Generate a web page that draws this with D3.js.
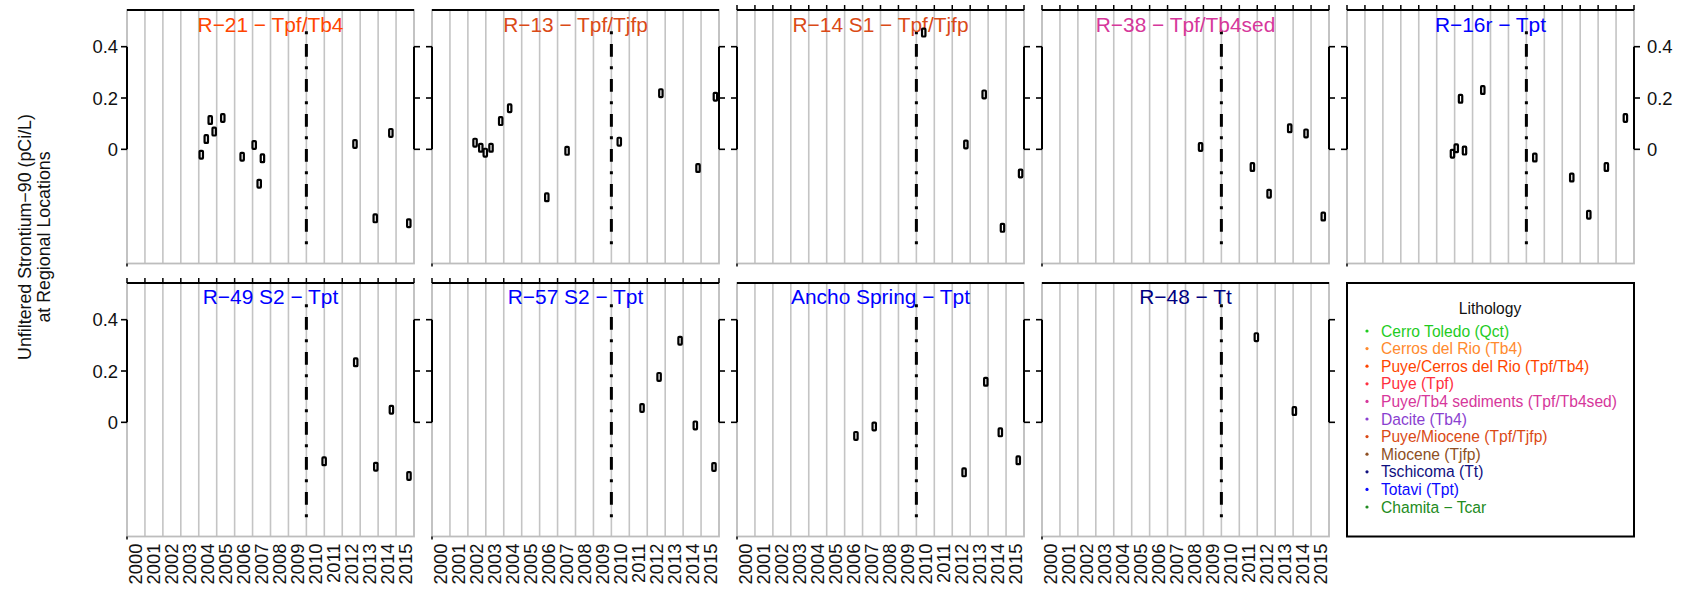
<!DOCTYPE html>
<html><head><meta charset="utf-8">
<script src="https://cdn.jsdelivr.net/npm/d3@7"></script>
<style>body{margin:0;background:#fff;} text{font-family:"Liberation Sans",Arial,Helvetica,sans-serif;}</style>
</head><body><svg id="c" width="1688" height="593"></svg>
<script>
// ---------- data ----------
const yearLabels = ["2000","2001","2002","2003","2004","2005","2006","2007","2008","2009","2010","2011","2012","2013","2014","2015"];
const yTicks = [0, 0.2, 0.4];
const yTickLabels = ["0", "0.2", "0.4"];
const cutoverYear = 2010;
const cutoverRange = [-0.37, 0.46];

const panelTitles = ["R\u221221 \u2212 Tpf/Tb4", "R\u221213 \u2212 Tpf/Tjfp", "R\u221214 S1 \u2212 Tpf/Tjfp", "R\u221238 \u2212 Tpf/Tb4sed", "R\u221216r \u2212 Tpt",
                     "R\u221249 S2 \u2212 Tpt", "R\u221257 S2 \u2212 Tpt", "Ancho Spring \u2212 Tpt", "R\u221248 \u2212 Tt"];
const panelColors = ["#FF4500", "#DA4A16", "#DA4A16", "#D6379B", "#0000FF", "#0000FF", "#0000FF", "#0000FF", "#000080"];

const r21Dates  = [2004.14, 2004.42, 2004.64, 2004.86, 2005.34, 2006.42, 2007.09, 2007.55, 2007.37, 2012.71, 2013.84, 2014.71, 2015.71];
const r21Values = [-0.021, 0.040, 0.114, 0.069, 0.122, -0.029, 0.017, -0.035, -0.134, 0.021, -0.269, 0.064, -0.288];
const r13Dates  = [2002.40, 2002.72, 2002.97, 2003.29, 2003.83, 2004.33, 2006.40, 2007.53, 2010.44, 2012.76, 2014.83, 2015.80];
const r13Values = [0.026, 0.006, -0.013, 0.006, 0.110, 0.160, -0.187, -0.006, 0.030, 0.219, -0.073, 0.205];
const r14Dates  = [2010.41, 2012.76, 2013.78, 2014.80, 2015.81];
const r14Values = [0.455, 0.019, 0.214, -0.306, -0.094];
const r38Dates  = [2008.84, 2011.73, 2012.66, 2013.81, 2014.72, 2015.68];
const r38Values = [0.009, -0.069, -0.173, 0.082, 0.062, -0.262];
const r16Dates  = [2005.88, 2006.09, 2006.33, 2006.55, 2007.57, 2010.47, 2012.53, 2013.48, 2014.46, 2015.52];
const r16Values = [-0.017, 0.004, 0.197, -0.005, 0.231, -0.032, -0.110, -0.255, -0.069, 0.122];
const r49Dates  = [2010.99, 2012.75, 2013.87, 2014.74, 2015.72];
const r49Values = [-0.152, 0.234, -0.173, 0.049, -0.209];
const r57Dates  = [2011.71, 2012.66, 2013.83, 2014.68, 2015.72];
const r57Values = [0.056, 0.177, 0.318, -0.012, -0.174];
const anchoDates  = [2006.63, 2007.65, 2012.66, 2013.87, 2014.68, 2015.68];
const anchoValues = [-0.053, -0.016, -0.195, 0.158, -0.039, -0.148];
const r48Dates  = [2011.95, 2014.07];
const r48Values = [0.332, 0.044];

const legendLabels = ["Cerro Toledo (Qct)", "Cerros del Rio (Tb4)", "Puye/Cerros del Rio (Tpf/Tb4)", "Puye (Tpf)",
  "Puye/Tb4 sediments (Tpf/Tb4sed)", "Dacite (Tb4)", "Puye/Miocene (Tpf/Tjfp)", "Miocene (Tjfp)",
  "Tschicoma (Tt)", "Totavi (Tpt)", "Chamita \u2212 Tcar"];
const legendColors = ["#1FCC1F", "#FF8A2E", "#FF4500", "#FF3040", "#D6379B", "#8A3FD0", "#DA4A16", "#8E5024", "#10107F", "#0A0AFF", "#228B22"];

const panelDates  = [r21Dates, r13Dates, r14Dates, r38Dates, r16Dates, r49Dates, r57Dates, anchoDates, r48Dates];
const panelValues = [r21Values, r13Values, r14Values, r38Values, r16Values, r49Values, r57Values, anchoValues, r48Values];

// ---------- layout ----------
const svg = d3.select("#c");
function fitSize(str, target, base) {
  const t = svg.append("text").attr("font-size", base).text(str);
  const len = t.node().getComputedTextLength();
  t.remove();
  return base * target / len;
}
const W = 287, H = 253.5;
const colX = [127, 432, 737, 1042, 1347];
const rowY = [10, 283];
const topTickPanels = [2, 3, 4, 5, 6];
const x = d3.scaleLinear().domain([2000, 2016]).range([0, W]);
const y = d3.scaleLinear().domain([-0.445, 0.543]).range([H, 0]);
const gridYears = d3.range(2001, 2016);
const boundaryYears = d3.range(2000, 2017);
const axisFont = Math.min(19.5, Math.max(16, fitSize("2000", 41, 18)));
const titleFont = Math.min(23, Math.max(18, fitSize("R\u221221 \u2212 Tpf/Tb4", 146, 21)));
const legendFont = Math.min(18, Math.max(14, fitSize("Puye/Tb4 sediments (Tpf/Tb4sed)", 236, 15)));
const yTitleFont = Math.min(19.5, Math.max(15, fitSize("Unfiltered Strontium\u221290 (pCi/L)", 246, 18)));
const inkColor = "#111";

panelTitles.forEach((title, i) => {
  const col = i % 5, row = Math.floor(i / 5);
  const g = svg.append("g").attr("transform", `translate(${colX[col]},${rowY[row]})`);
  g.selectAll("line.grid").data(gridYears).join("line")
    .attr("x1", d => x(d)).attr("x2", d => x(d)).attr("y1", 0).attr("y2", H)
    .attr("stroke", "#C4C4C4").attr("stroke-width", 1.6);
  g.append("rect").attr("x", 0).attr("y", 0).attr("width", W).attr("height", H)
    .attr("fill", "none").attr("stroke", "#BDBDBD").attr("stroke-width", 1.8);
  g.append("line").attr("x1", 0).attr("x2", W).attr("y1", 0).attr("y2", 0)
    .attr("stroke", "#000").attr("stroke-width", 2);
  if (topTickPanels.includes(i)) {
    g.selectAll("line.tt").data(boundaryYears).join("line")
      .attr("x1", d => x(d)).attr("x2", d => x(d)).attr("y1", 0).attr("y2", -5)
      .attr("stroke", "#000").attr("stroke-width", 1.5);
  }
  g.append("line").attr("x1", 0).attr("x2", 0).attr("y1", H).attr("y2", H + 3)
    .attr("stroke", "#000").attr("stroke-width", 1.5);
  [[0, -1], [W, 1]].forEach(([ax, dir]) => {
    g.append("line").attr("x1", ax).attr("x2", ax).attr("y1", y(0)).attr("y2", y(0.4))
      .attr("stroke", "#000").attr("stroke-width", 2);
    g.selectAll(null).data(yTicks).join("line")
      .attr("x1", ax).attr("x2", ax + dir * 6).attr("y1", d => y(d)).attr("y2", d => y(d))
      .attr("stroke", "#000").attr("stroke-width", 1.6);
  });
  if (col === 0) {
    g.selectAll(null).data(yTicks).join("text")
      .attr("x", -9).attr("y", d => y(d)).attr("text-anchor", "end").attr("dominant-baseline", "central")
      .attr("font-size", axisFont).attr("fill", inkColor).text((d, k) => yTickLabels[k]);
  }
  if (col === 4) {
    g.selectAll(null).data(yTicks).join("text")
      .attr("x", W + 13).attr("y", d => y(d)).attr("text-anchor", "start").attr("dominant-baseline", "central")
      .attr("font-size", axisFont).attr("fill", inkColor).text((d, k) => yTickLabels[k]);
  }
  if (row === 1) {
    g.selectAll(null).data(yearLabels).join("text")
      .attr("transform", (d, k) => `translate(${x(2000 + k + 0.5)},${H + 7}) rotate(-90)`)
      .attr("text-anchor", "end").attr("dominant-baseline", "central")
      .attr("font-size", axisFont).attr("fill", inkColor).text(d => d);
  }
  g.append("line").attr("x1", x(cutoverYear)).attr("x2", x(cutoverYear))
    .attr("y1", y(cutoverRange[1])).attr("y2", y(cutoverRange[0]))
    .attr("stroke", "#000").attr("stroke-width", 3).attr("stroke-dasharray", "3,9.6,12.8,9.6");
  g.append("text").attr("x", W / 2).attr("y", row === 0 ? 22 : 20.5).attr("text-anchor", "middle")
    .attr("font-size", titleFont).attr("fill", panelColors[i]).text(title);
  const pts = panelDates[i].map((d, k) => [d, panelValues[i][k]]);
  g.selectAll("rect.pt").data(pts).join("rect")
    .attr("x", d => x(d[0]) - 1.7).attr("y", d => y(d[1]) - 3.9).attr("width", 3.4).attr("height", 7.8)
    .attr("rx", 0.8).attr("fill", "#fff").attr("stroke", "#000").attr("stroke-width", 2.2);
});

svg.append("text").attr("transform", "translate(25,237) rotate(-90)").attr("text-anchor", "middle")
  .attr("dominant-baseline", "central").attr("font-size", yTitleFont).attr("fill", inkColor)
  .text("Unfiltered Strontium\u221290 (pCi/L)");
svg.append("text").attr("transform", "translate(44,237) rotate(-90)").attr("text-anchor", "middle")
  .attr("dominant-baseline", "central").attr("font-size", yTitleFont).attr("fill", inkColor)
  .text("at Regional Locations");

const lg = svg.append("g").attr("transform", `translate(${colX[4]},${rowY[1]})`);
lg.append("rect").attr("x", 0).attr("y", 0).attr("width", W).attr("height", H)
  .attr("fill", "#fff").attr("stroke", "#000").attr("stroke-width", 2);
lg.append("text").attr("x", 143).attr("y", 31).attr("text-anchor", "middle")
  .attr("font-size", legendFont).attr("fill", inkColor).text("Lithology");
lg.selectAll("circle").data(legendLabels).join("circle")
  .attr("cx", 20).attr("cy", (d, k) => 48 + k * 17.6).attr("r", 1.6)
  .attr("fill", (d, k) => legendColors[k]);
lg.selectAll("text.it").data(legendLabels).join("text")
  .attr("x", 34).attr("y", (d, k) => 48 + k * 17.6).attr("dominant-baseline", "central")
  .attr("font-size", legendFont).attr("fill", (d, k) => legendColors[k]).text(d => d);
</script></body></html>
